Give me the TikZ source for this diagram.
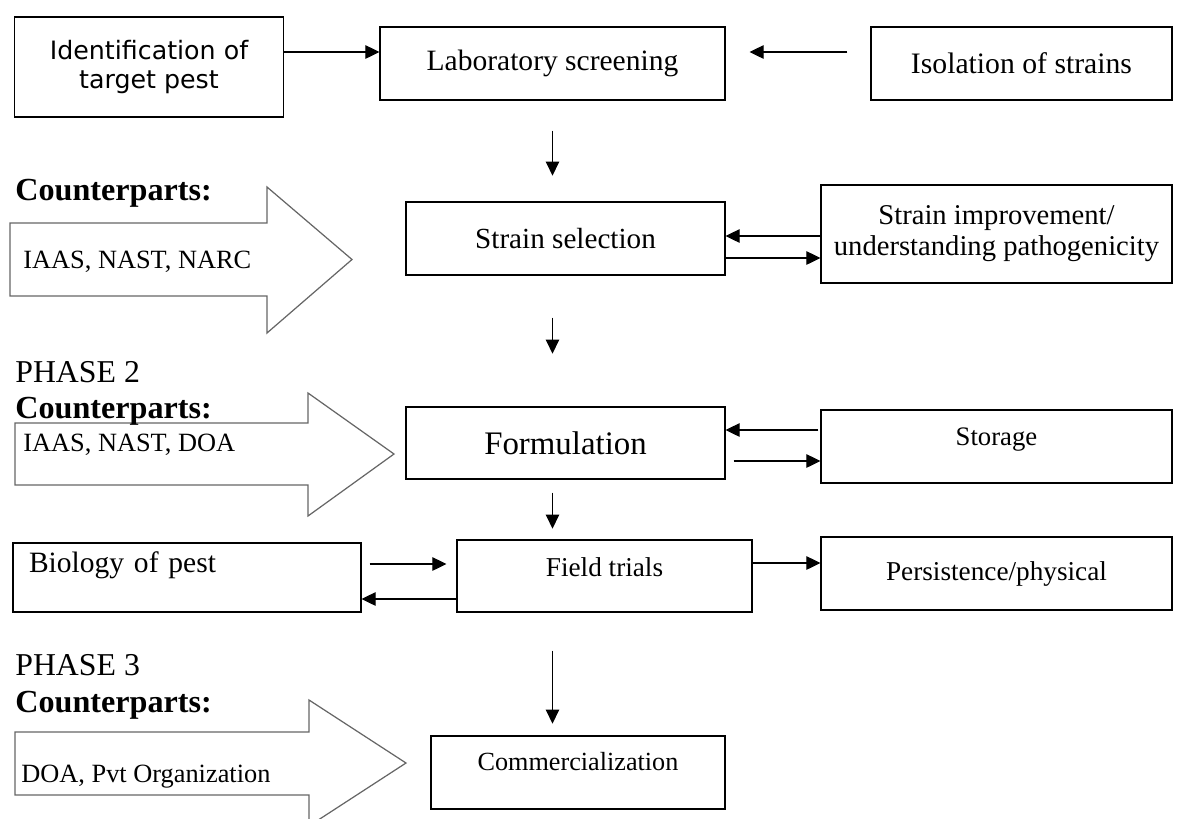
\documentclass[tikz,border=0pt]{standalone}
\usepackage{fontspec}
\setmainfont{Liberation Serif}
\newfontfamily\identfont{DejaVu Sans}
\usepackage{tikz}
\usetikzlibrary{arrows.meta, calc}

\begin{document}
\begin{tikzpicture}[
      x=0.02cm, y=-0.02cm,
      >={Triangle[length=0.28cm, width=0.27cm]},
      block/.style={
        rectangle, draw, line width=0.7pt, inner sep=0pt, align=center
      },
      link/.style={->, line width=0.6pt},
      bigarrow/.style={draw=black!60, line width=0.7pt},
      tag/.style={anchor=base west, inner sep=0pt},
      fsz/.style={font=\fontsize{#1}{#1}\selectfont},
      cpfont/.style={font=\bfseries\fontsize{18.3}{20}\selectfont}
    ]
    \useasboundingbox (0,0) rectangle (1178,819);
    \clip (0,0) rectangle (1178,819);

    \node[block, minimum width=5.38cm, minimum height=2cm,
      font=\identfont\fontsize{14.4}{17}\selectfont] (ident) at (149,67)
      {Identification of\\target pest};
    \node[block, minimum width=6.9cm, minimum height=1.46cm, fsz=16.8] (lab) at (552.5,63.5)
      {Laboratory screening};
    \node[block, minimum width=6.02cm, minimum height=1.46cm, fsz=16.9] (iso) at (1021.5,63.5)
      {Isolation of strains};

    \node[block, minimum width=6.38cm, minimum height=1.46cm, fsz=16.6] (sel) at (565.5,238.5)
      {Strain selection};
    \node[block, minimum width=7.02cm, minimum height=1.96cm,
      font=\fontsize{16.3}{17.6}\selectfont] (imp) at (996.5,234)
      {Strain improvement/\\understanding pathogenicity};

    \node[block, minimum width=6.38cm, minimum height=1.44cm, fsz=18.7] (form) at (565.5,443)
      {Formulation};
    \node[block, minimum width=7.02cm, minimum height=1.46cm, fsz=15.2,
      text height=0.37cm, text depth=0.43cm] (stor) at (996.5,446.5) {Storage};

    \node[block, minimum width=6.96cm, minimum height=1.38cm, fsz=16.8, align=left,
      text width=6.32cm, text height=0.41cm, text depth=0.63cm] (bio) at (187,577.5)
      {Biology of pest};
    \node[block, minimum width=5.9cm, minimum height=1.44cm, fsz=15.5,
      text height=0.37cm, text depth=0.37cm] (field) at (604.5,576) {Field trials};
    \node[block, minimum width=7.02cm, minimum height=1.46cm, fsz=15.5] (pers) at (996.5,573.5)
      {Persistence/physical};

    \node[block, minimum width=5.88cm, minimum height=1.46cm, fsz=14.9,
      text height=0.37cm, text depth=0.45cm] (comm) at (578,772.5) {Commercialization};

    \draw[bigarrow] (10,223) -- (267,223) -- (267,187) -- (352,259.5)
      -- (267,333) -- (267,296) -- (10,296) -- cycle;
    \draw[bigarrow] (15,423) -- (308,423) -- (308,393) -- (394,454)
      -- (308,516) -- (308,485) -- (15,485) -- cycle;
    \draw[bigarrow] (15,732) -- (309,732) -- (309,700) -- (406,763)
      -- (309,826) -- (309,795) -- (15,795) -- cycle;

    \node[tag, cpfont] (cp1) at (15,200) {Counterparts:};
    \node[tag, fsz=15] (org1) at (23,268) {IAAS, NAST, NARC};
    \node[tag, fsz=18.1] (ph2) at (15,382) {PHASE 2};
    \node[tag, cpfont] (cp2) at (15,418) {Counterparts:};
    \node[tag, fsz=15] (org2) at (23,451) {IAAS, NAST, DOA};
    \node[tag, fsz=18.1] (ph3) at (15,675) {PHASE 3};
    \node[tag, cpfont] (cp3) at (15,712) {Counterparts:};
    \node[tag, fsz=15] (org3) at (21,782) {DOA, Pvt Organization};

    \draw[link] ($(ident.east)+(0,-15)$) -- ($(ident.east -| lab.west)+(0,-15)$);
    \draw[link] ($(iso.west)+(-23,-11.5)$) -- ($(lab.east)+(24,-11.5)$);
    \draw[link] ($(lab.south)+(0,30)$) -- ($(lab.south)+(0,75)$);

    \draw[link] ($(imp.west)+(0,2)$) -- ($(imp.west -| sel.east)+(0,2)$);
    \draw[link] ($(sel.east)+(0,19.5)$) -- ($(sel.east -| imp.west)+(0,19.5)$);
    \draw[link] ($(sel.south -| lab.south)+(0,42)$) -- ($(sel.south -| lab.south)+(0,78)$);

    \draw[link] ($(stor.west)+(-2,-16.5)$) -- ($(stor.west -| form.east)+(0,-16.5)$);
    \draw[link] ($(form.east)+(8,18)$) -- ($(form.east -| stor.west)+(0,18)$);
    \draw[link] ($(form.south -| lab.south)+(0,13)$) -- ($(form.south -| lab.south)+(0,49)$);

    \draw[link] ($(bio.east)+(8,-13.5)$) -- ($(field.west)+(-10,-12)$);
    \draw[link] ($(field.west)+(0,23)$) -- ($(field.west -| bio.east)+(0,23)$);
    \draw[link] ($(field.east)+(0,-13)$) -- ($(field.east -| pers.west)+(0,-13)$);
    \draw[link] ($(field.south -| lab.south)+(0,38)$) -- ($(field.south -| lab.south)+(0,111)$);
  \end{tikzpicture}
\end{document}
